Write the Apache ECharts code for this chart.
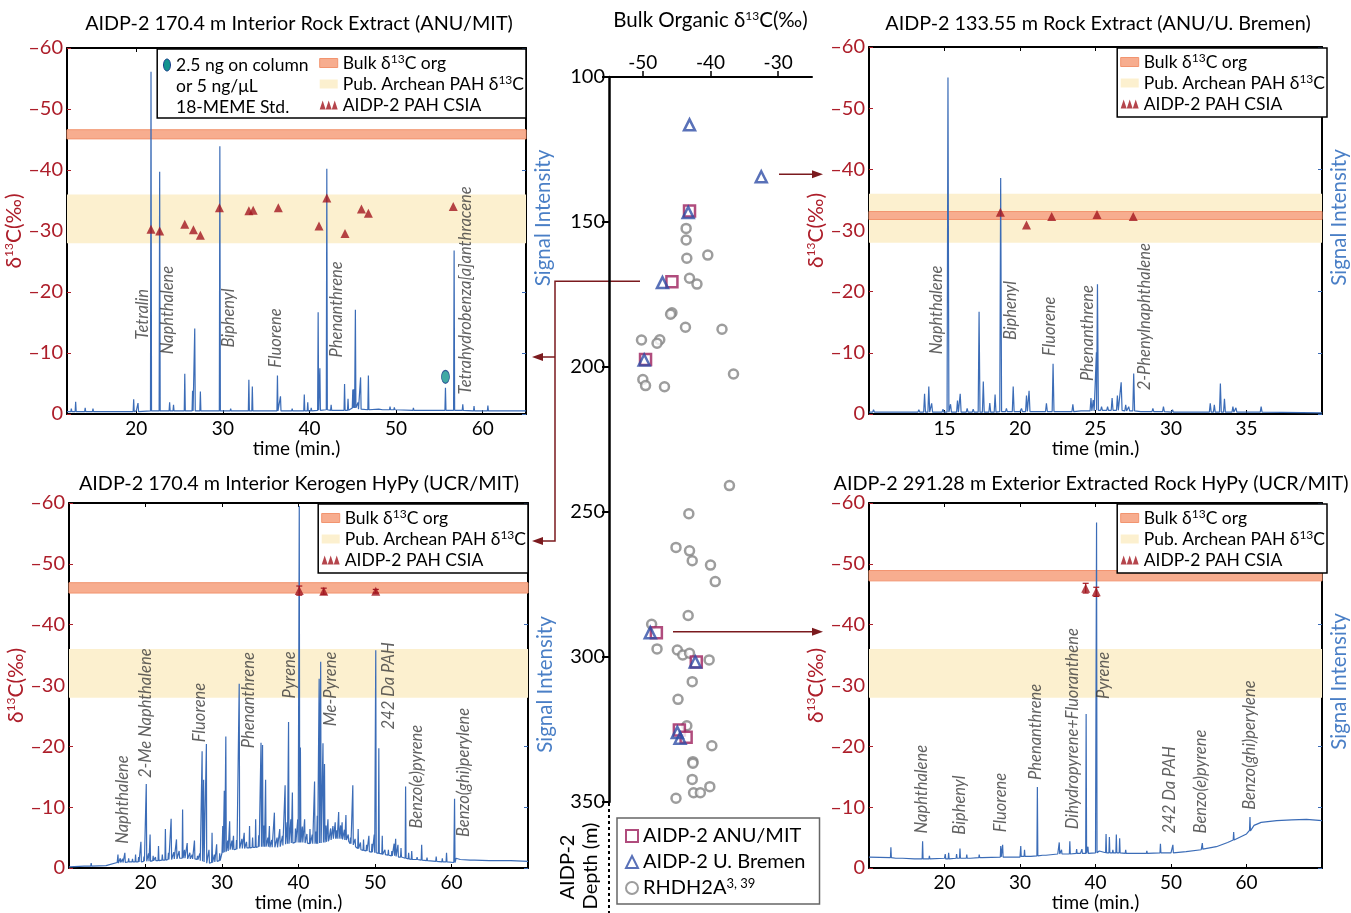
<!DOCTYPE html>
<html>
<head>
<meta charset="utf-8">
<script src="https://cdn.jsdelivr.net/npm/echarts@6/dist/echarts.min.js"></script>
<style>
html,body{margin:0;padding:0;background:#fff;}
#main{width:1351px;height:913px;}
</style>
</head>
<body>
<div id="main"></div>
<script>
// ---- panel A : 170.4 m interior rock extract (ANU/MIT) ----
var aBase = [[12,0.4],[20,0.5],[30,0.5],[40,0.6],[45,0.8],[48,0.8],[50,0.7],[55,0.6],[60,0.5],[65,0.5]];
// [time, top, foot]
var aPeaks = [[12.5,0.9,0.4],[13.0,2.0,0.4],[14.1,1.0,0.4],[15.0,0.9,0.4],[19.7,2.4,0.4],[20.2,1.8,0.4],[21.7,56.1,0.5],[22.7,39.7,0.5],[23.85,1.9,0.5],[24.3,1.5,0.5],[25.6,6.6,0.5],[26.5,3.8,0.5],[26.75,14.0,0.5],[27.4,3.7,0.5],[29.65,43.9,0.5],[30.9,0.9,0.5],[33.0,5.6,0.5],[33.4,4.5,0.5],[36.3,6.3,0.5],[36.65,2.9,0.5],[38.0,0.9,0.5],[39.4,3.2,0.5],[39.8,1.9,0.5],[40.2,1.0,0.5],[41.0,16.7,0.6],[41.2,7.5,0.6],[42.0,40.2,0.7],[42.5,1.5,0.6],[44.05,4.9,0.6],[44.45,2.5,0.6],[45.0,4.0,1.0],[45.15,4.1,1.0],[45.3,17.1,1.0],[45.6,1.9,0.8],[45.9,6.0,0.8],[46.8,6.3,0.7],[48.5,1.0,0.7],[49.3,1.2,0.7],[49.8,1.1,0.7],[52.0,1.0,0.6],[53.2,0.9,0.6],[55.7,4.3,0.6],[56.7,26.8,0.6],[57.7,1.6,0.6],[59.0,1.3,0.5],[60.6,1.4,0.5]];
var aCsia = [[21.7,-30.3],[22.7,-30.0],[25.6,-31.1],[26.6,-30.2],[27.4,-29.3],[29.6,-33.8],[33.0,-33.3],[33.5,-33.4],[36.4,-33.8],[41.1,-30.8],[42.0,-35.4],[44.1,-29.6],[46.0,-33.6],[46.8,-32.9],[56.6,-34.0]];
var aStd = [[55.7,-6.1]];
var aBulk = [-46.6,-45.1];
var aNames = ['Tetralin','Naphthalene','Biphenyl','Fluorene','Phenanthrene','Tetrahydrobenza[a]anthracene'];
var aNameT = [20.8,23.7,30.7,36.1,43.2,58.1];
var aNameY = [-12.1,-9.7,-10.8,-7.5,-9.2,-3.1];

// ---- panel B : 133.55 m rock extract (ANU/U. Bremen) ----
var bBase = [[10,0.3],[20,0.4],[25,0.6],[28,0.4],[35,0.3],[40,0.2]];
var bPeaks = [[10.3,0.7,0.3],[11.2,0.6,0.3],[12.5,0.5,0.3],[13.3,0.7,0.3],[13.68,3.3,0.3],[13.96,4.5,0.3],[14.15,1.75,0.3],[14.9,0.8,0.3],[15.23,55,0.3],[15.4,1.6,0.3],[15.86,2.2,0.3],[16.04,3.3,0.3],[16.5,0.9,0.3],[16.9,0.8,0.3],[17.29,16.7,0.3],[17.57,5.3,0.3],[18.0,1.8,0.3],[18.35,3.2,0.3],[18.72,38.6,0.4],[19.1,0.9,0.4],[19.55,4.5,0.4],[20.1,0.9,0.4],[20.43,3.0,0.4],[20.6,3.8,0.4],[21.75,1.75,0.4],[22.19,8.2,0.4],[23.5,1.6,0.4],[24.1,0.8,0.5],[24.7,2.6,0.5],[24.85,2.3,0.5],[25.06,10.1,0.6],[25.13,21.2,0.6],[25.4,1.2,0.6],[25.8,1.2,0.6],[26.1,2.6,0.6],[26.45,3.0,0.6],[26.7,5.2,0.6],[27.0,1.5,0.5],[27.2,1.2,0.5],[27.53,6.6,0.5],[28.8,0.9,0.4],[29.5,1.2,0.4],[30.1,0.7,0.3],[31.3,0.6,0.3],[32.6,1.75,0.3],[32.87,1.5,0.3],[33.27,5.0,0.3],[33.54,2.5,0.3],[34.1,1.2,0.3],[34.3,1.0,0.3],[35.97,1.2,0.3]];
var bCsia = [[18.7,-33.0],[20.43,-30.9],[22.1,-32.3],[25.1,-32.6],[27.5,-32.3]];
var bBulk = [-33.1,-31.8];
var bNames = ['Naphthalene','Biphenyl','Fluorene','Phenanthrene','2-Phenylnaphthalene'];
var bNameT = [14.54,19.4,22.0,24.5,28.3];
var bNameY = [-9.7,-12.0,-9.4,-5.3,-3.8];

// ---- panel C : 170.4 m interior kerogen HyPy (UCR/MIT) ----
var cBase = [[10,0.2],[12,0.3],[15,0.4],[16.3,0.9],[18,1.0],[20,1.1],[22,1.3],[24,1.6],[26,1.5],[28,0.8],[29.5,1.2],[30,2.5],[31,3.0],[33,3.3],[35,3.5],[37,3.4],[38.5,4.0],[40,4.2],[42,4.0],[44,4.8],[46,4.6],[47.5,3.2],[49,2.7],[51,2.2],[53,1.8],[55,1.4],[58,1.1],[60.3,0.9],[60.6,1.6],[63,1.3],[66,1.2],[70,1.1]];
var cPeaks = [[12.9,0.8,0.3],[14.9,0.7,0.4],[16.4,2.2,0.8],[16.7,1.6,0.9],[17.0,1.5,0.9],[17.3,2.5,0.9],[17.8,1.6,1.0],[18.3,1.5,1.0],[18.7,2.2,1.0],[19.1,1.8,1.0],[19.4,4.3,1.0],[19.8,1.9,1.1],[20.1,13.8,1.1],[20.4,2.4,1.1],[20.6,5.5,1.1],[21.0,2.0,1.2],[21.3,1.8,1.2],[21.7,3.6,1.2],[22.2,2.2,1.3],[22.6,6.4,1.3],[23.0,2.5,1.4],[23.35,8.1,1.4],[23.7,2.6,1.5],[24.05,4.7,1.5],[24.4,2.8,1.6],[24.85,9.6,1.6],[25.1,3.0,1.6],[25.45,4.1,1.5],[25.8,2.5,1.5],[26.1,2.2,1.5],[26.4,4.5,1.5],[26.8,2.0,1.4],[27.1,2.4,1.2],[27.4,19.2,1.1],[27.6,14.5,1.0],[27.96,20.4,0.9],[28.3,3.0,0.8],[28.7,5.8,0.9],[29.0,2.2,1.0],[29.3,3.9,1.1],[29.7,2.4,1.2],[30.1,6.9,2.5],[30.3,12.7,2.6],[30.5,21.6,2.7],[30.75,4.5,2.8],[31.0,7.7,3.0],[31.3,4.5,3.0],[31.5,5.3,3.0],[31.9,4.6,3.1],[32.25,30.3,3.2],[32.6,4.8,3.2],[32.9,5.8,3.2],[33.2,4.3,3.3],[33.6,6.9,3.3],[34.0,5.0,3.4],[34.4,8.0,3.4],[34.8,5.4,3.5],[35.1,20.6,3.5],[35.3,20.2,3.5],[35.5,7.0,3.5],[35.7,14.5,3.5],[36.0,5.0,3.5],[36.2,6.9,3.4],[36.5,4.6,3.4],[36.85,9.1,3.4],[37.2,5.0,3.4],[37.55,6.4,3.5],[37.9,5.3,3.7],[38.25,13.6,3.9],[38.5,7.5,4.0],[38.7,24.0,4.0],[39.0,8.0,4.1],[39.2,12.4,4.1],[39.6,6.5,4.2],[39.9,8.0,4.2],[40.1,59.5,4.2],[40.25,19.8,4.2],[40.5,6.8,4.2],[40.8,8.0,4.1],[41.1,5.6,4.1],[41.5,6.4,4.0],[41.8,5.5,4.0],[42.1,14.2,4.0],[42.3,6.0,4.0],[42.45,8.6,4.0],[42.7,31.1,4.1],[42.9,33.9,4.1],[43.2,20.5,4.2],[43.4,17.1,4.2],[43.6,7.0,4.3],[43.85,8.0,4.4],[44.2,6.5,4.6],[44.5,6.9,4.8],[44.8,7.5,4.8],[45.0,6.2,4.8],[45.25,9.2,4.8],[45.5,7.0,4.8],[45.7,7.5,4.7],[46.0,6.3,4.6],[46.2,8.7,4.6],[46.5,5.5,4.4],[46.8,5.0,4.0],[47.1,13.6,3.8],[47.4,4.8,3.5],[47.8,6.4,3.2],[48.1,4.2,3.0],[48.5,4.7,2.9],[48.9,3.8,2.8],[49.2,5.3,2.7],[49.6,4.0,2.6],[49.9,5.5,2.5],[50.1,35.8,2.5],[50.5,19.7,2.4],[50.95,5.3,2.3],[51.3,3.0,2.2],[51.75,3.0,2.1],[52.2,2.8,2.0],[52.5,4.0,2.0],[52.7,4.8,1.9],[53.0,3.8,1.8],[53.4,3.3,1.8],[54.0,13.4,1.6],[54.4,2.5,1.5],[54.8,2.8,1.4],[55.5,1.8,1.4],[56.1,3.8,1.3],[56.8,1.7,1.2],[58.0,1.9,1.1],[58.8,1.6,1.0],[59.35,2.5,1.0],[60.4,11.4,0.9],[61.2,1.6,1.4],[62.5,1.5,1.3],[65.0,1.4,1.2],[67.8,1.5,1.2]];
var cCsia = [[40.1,-45.6],[43.3,-45.5],[50.1,-45.5]];
var cErr = [0.75,0.5,0.3];
var cBulk = [-46.9,-45.2];
var cNames = ['Naphthalene','2-Me Naphthalene','Fluorene','Phenanthrene','Pyrene','Me-Pyrene','242 Da PAH','Benzo(e)pyrene','Benzo(ghi)perylene'];
var cNameT = [17.1,20.1,27.2,33.5,38.9,44.3,51.8,55.5,61.7];
var cNameY = [-3.9,-14.7,-20.6,-19.6,-27.8,-23.2,-22.7,-6.4,-5.0];

// ---- panel D : 291.28 m exterior extracted rock HyPy (UCR/MIT) ----
var dBase = [[10,1.8],[13,1.6],[16,1.5],[20,1.6],[25,1.7],[30,1.8],[33,2.1],[35,2.3],[38,2.4],[40,2.5],[45,2.4],[50,2.5],[52,2.7],[54,3.0],[56,3.5],[57.5,4.2],[58.5,4.8],[60,5.6],[60.4,6.2],[61,7.0],[62,7.5],[64,7.8],[66,7.9],[68,8.0],[70,7.8]];
var dPeaks = [[12.9,3.4,1.7],[13.6,1.8,1.6],[14.5,1.8,1.6],[17.1,4.4,1.5],[18.0,2.0,1.5],[20.1,2.3,1.5],[20.55,2.5,1.5],[21.6,2.3,1.6],[22.05,3.2,1.6],[22.95,2.2,1.6],[23.5,1.9,1.6],[24.6,2.2,1.7],[25.1,2.0,1.7],[27.45,3.6,1.8],[27.7,3.8,1.8],[28.5,2.0,1.8],[30.1,3.6,1.9],[30.6,3.0,1.9],[31.5,2.1,1.9],[32.3,13.3,2.0],[33.5,2.3,2.1],[35.2,4.2,2.3],[35.5,3.0,2.3],[36.6,4.4,2.3],[37.5,3.1,2.4],[38.2,3.1,2.4],[38.76,25.3,2.4],[39.0,3.5,2.4],[40.14,56.8,2.5],[40.5,2.8,2.5],[41.4,5.6,2.5],[41.84,5.1,2.5],[42.3,3.0,2.5],[42.76,5.5,2.5],[43.2,4.9,2.5],[44.0,3.0,2.4],[45.5,2.6,2.4],[46.8,2.8,2.4],[48.6,4.0,2.5],[50.25,3.8,2.5],[54.15,4.1,3.1],[58.3,5.9,4.6],[60.46,8.4,6.1],[62.0,7.8,7.5],[68.0,8.3,8.0]];
var dCsia = [[38.7,-46.0],[40.1,-45.4]];
var dErr = [0.8,0.75];
var dBulk = [-48.9,-47.2];
var dNames = ['Naphthalene','Biphenyl','Fluorene','Phenanthrene','Dihydropyrene+Fluoranthene','Pyrene','242 Da PAH','Benzo(e)pyrene','Benzo(ghi)perylene'];
var dNameT = [17.0,22.1,27.5,32.2,37.1,41.1,49.9,54.0,60.5];
var dNameY = [-5.6,-5.4,-5.8,-14.4,-6.3,-27.7,-5.6,-5.6,-9.5];

var archBand = [-36.0,-28.0];

// ---- centre: bulk organic d13C vs depth ----
var anuPts = [[-43.1,146.2],[-45.7,170.6],[-49.6,197.4],[-48.0,291.6],[-42.1,301.7],[-44.6,325.2],[-43.6,327.7]];
var bremenPts = [[-43.1,116.5],[-32.5,134.4],[-43.3,146.7],[-47.1,170.9],[-49.8,197.6],[-48.9,291.6],[-42.25,301.7],[-44.9,326.0],[-44.5,328.0]];
var rhdPts = [[-43.6,152.2],[-43.6,156.2],[-40.4,161.4],[-43.5,162.5],[-43.1,169.4],[-42.0,171.4],[-45.7,181.3],[-45.9,181.8],[-43.7,186.3],[-38.3,187.0],[-50.2,190.7],[-47.5,190.6],[-47.9,191.8],[-36.6,202.4],[-50.0,204.3],[-49.6,206.4],[-46.8,206.8],
  [-37.2,240.9],[-43.2,250.6],[-45.1,262.2],[-43.1,263.4],[-42.7,266.8],[-40.0,268.3],[-39.3,274.0],[-43.3,285.7],[-48.7,288.7],[-47.9,297.2],[-44.9,297.6],[-44.1,299.3],[-43.1,298.7],[-40.2,301.0],[-42.7,308.5],[-44.8,314.6],[-43.5,323.7],[-39.8,330.6],[-42.6,336.1],[-42.6,336.6],[-42.7,342.2],[-40.1,344.7],[-42.5,346.8],[-41.5,346.8],[-45.1,348.7]];

var FONT = 'Lato';
var RED = '#ad1e2a';
var BLUE = '#3b6cb7';
var BLUE_TXT = '#4a7fc6';
var BULK_FILL = '#f7ad8f', BULK_EDGE = '#f2946f';
var ARCH_FILL = '#fcf0cf';
var CSIA_C = '#a3161f';
var TRI3 = 'path://M0,10L3.3,0L6.6,10ZM6.7,10L10,0L13.3,10ZM13.4,10L16.7,0L20,10Z';

function trace(base, peaks) {
  var pts = base.slice();
  peaks.forEach(function (p) {
    pts.push([p[0] - 0.06, p[2]], [p[0], p[1]], [p[0] + 0.06, p[2]]);
  });
  pts.sort(function (a, b) { return a[0] - b[0]; });
  return pts;
}

var panels = [
  {grid: {left: 67, top: 48, width: 459, height: 366}, tmin: 12, tmax: 65, ticks: [20, 30, 40, 50, 60],
   base: aBase, peaks: aPeaks, csia: aCsia, err: null, bulk: aBulk, names: aNames, nt: aNameT, ny: aNameY,
   legRight: 825, legTop: 49, padLeft: 162, sigShift: 26},
  {grid: {left: 869, top: 47, width: 458, height: 367}, tmin: 10, tmax: 40, ticks: [15, 20, 25, 30, 35],
   base: bBase, peaks: bPeaks, csia: bCsia, err: null, bulk: bBulk, names: bNames, nt: bNameT, ny: bNameY,
   legRight: 24, legTop: 48, padLeft: 3, sigShift: 26},
  {grid: {left: 69, top: 503, width: 459, height: 367}, tmin: 10, tmax: 70, ticks: [20, 30, 40, 50, 60],
   base: cBase, peaks: cPeaks, csia: cCsia, err: cErr, bulk: cBulk, names: cNames, nt: cNameT, ny: cNameY,
   legRight: 823, legTop: 504, padLeft: 3, sigShift: 2},
  {grid: {left: 869, top: 503, width: 458, height: 367}, tmin: 10, tmax: 70, ticks: [20, 30, 40, 50, 60],
   base: dBase, peaks: dPeaks, csia: dCsia, err: dErr, bulk: dBulk, names: dNames, nt: dNameT, ny: dNameY,
   legRight: 24, legTop: 504, padLeft: 3, sigShift: 8}
];

var grids = [], xAxes = [], yAxes = [], series = [], legends = [];
var supRich = {sup: {fontSize: 12, verticalAlign: 'top', lineHeight: 12, fontFamily: FONT}};

function bandRender(params, api) {
  var cs = params.coordSys;
  var p1 = api.coord([cs.x, api.value(1)]);
  var p2 = api.coord([cs.x, api.value(0)]);
  var y0 = Math.min(p1[1], p2[1]);
  return {type: 'rect', shape: {x: cs.x, y: y0, width: cs.width, height: Math.abs(p2[1] - p1[1])},
          style: api.style()};
}

panels.forEach(function (p, i) {
  grids.push(p.grid);
  xAxes.push({
    gridIndex: i, type: 'value', min: p.tmin, max: p.tmax, position: 'bottom',
    axisLine: {onZero: false, lineStyle: {color: '#000', width: 2}},
    axisTick: {inside: true, length: 4, customValues: p.ticks, lineStyle: {color: '#000'}},
    axisLabel: {customValues: p.ticks, fontSize: 19, color: '#000', fontFamily: FONT, margin: 5},
    splitLine: {show: false},
    name: 'time (min.)', nameLocation: 'middle', nameGap: 25,
    nameTextStyle: {fontSize: 19, color: '#000', fontFamily: FONT}
  });
  xAxes.push({
    gridIndex: i, type: 'value', min: p.tmin, max: p.tmax, position: 'top',
    axisLine: {onZero: false, lineStyle: {color: '#000', width: 2}},
    axisTick: {inside: true, length: 4, customValues: p.ticks, lineStyle: {color: '#000'}},
    axisLabel: {show: false}, splitLine: {show: false}
  });
  yAxes.push({
    gridIndex: i, type: 'value', min: -60, max: 0, interval: 10, inverse: true, position: 'left',
    axisLine: {onZero: false, lineStyle: {color: '#000', width: 2}},
    axisTick: {inside: true, length: 4, lineStyle: {color: RED}},
    axisLabel: {fontSize: 20, color: RED, fontFamily: FONT, margin: 4,
      formatter: function (v) { return v === 0 ? '0' : '\u2013' + Math.abs(v); }},
    splitLine: {show: false},
    name: '\u03b4{sup|13}C(\u2030)', nameLocation: 'middle', nameRotate: 90, nameGap: 38,
    nameTextStyle: {fontSize: 21, color: RED, fontFamily: FONT, rich: supRich}
  });
  yAxes.push({
    gridIndex: i, type: 'value', min: 0, max: 60, interval: 10, position: 'right',
    axisLine: {onZero: false, lineStyle: {color: '#000', width: 2}},
    axisTick: {inside: true, length: 4, lineStyle: {color: BLUE}},
    axisLabel: {show: false}, splitLine: {show: false},
    name: 'Signal Intensity', nameLocation: 'middle', nameRotate: 90, nameGap: 7,
    nameTextStyle: {fontSize: 20.5, color: BLUE_TXT, fontFamily: FONT, padding: [0, 0, 0, p.sigShift]}
  });

  var xi = 2 * i, yl = 2 * i, yr = 2 * i + 1;
  series.push({
    type: 'custom', name: 'Pub. Archean PAH \u03b413C', xAxisIndex: xi, yAxisIndex: yl, z: 1, silent: true,
    renderItem: bandRender, data: [archBand], itemStyle: {color: ARCH_FILL}
  });
  series.push({
    type: 'custom', name: 'Bulk \u03b413C org', xAxisIndex: xi, yAxisIndex: yl, z: 1, silent: true,
    renderItem: bandRender, data: [p.bulk], itemStyle: {color: BULK_FILL, borderColor: BULK_EDGE, borderWidth: 1}
  });
  series.push({
    type: 'line', name: 'signal' + i, xAxisIndex: xi, yAxisIndex: yr, z: 2, silent: true,
    data: trace(p.base, p.peaks), showSymbol: false, symbol: 'none',
    lineStyle: {color: BLUE, width: 1.2}, itemStyle: {color: BLUE}
  });
  if (p.err) {
    series.push({
      type: 'custom', name: 'err' + i, xAxisIndex: xi, yAxisIndex: yl, z: 4, silent: true,
      data: p.csia.map(function (c, k) { return [c[0], c[1] - p.err[k], c[1] + p.err[k]]; }),
      renderItem: function (params, api) {
        var lo = api.coord([api.value(0), api.value(1)]);
        var hi = api.coord([api.value(0), api.value(2)]);
        var st = {stroke: CSIA_C, lineWidth: 1.2};
        return {type: 'group', children: [
          {type: 'line', shape: {x1: lo[0], y1: lo[1], x2: hi[0], y2: hi[1]}, style: st},
          {type: 'line', shape: {x1: lo[0] - 3, y1: lo[1], x2: lo[0] + 3, y2: lo[1]}, style: st},
          {type: 'line', shape: {x1: hi[0] - 3, y1: hi[1], x2: hi[0] + 3, y2: hi[1]}, style: st}
        ]};
      }
    });
  }
  series.push({
    type: 'scatter', name: 'AIDP-2 PAH CSIA', xAxisIndex: xi, yAxisIndex: yl, z: 5, silent: true,
    data: p.csia, symbol: 'triangle', symbolSize: 9, itemStyle: {color: CSIA_C}
  });
  series.push({
    type: 'scatter', name: 'names' + i, xAxisIndex: xi, yAxisIndex: yl, z: 3, silent: true,
    symbolSize: 1, itemStyle: {color: 'rgba(0,0,0,0)'},
    data: p.names.map(function (n, k) { return {name: n, value: [p.nt[k], p.ny[k]]}; }),
    label: {show: true, formatter: '{b}', rotate: 90, position: [0, 0], align: 'left', verticalAlign: 'middle',
      fontFamily: FONT, fontStyle: 'italic', fontSize: 16.5, color: '#3a3a3a'}
  });

  legends.push({
    orient: 'vertical', right: p.legRight, top: p.legTop, selectedMode: false,
    data: [
      {name: 'Bulk \u03b413C org', icon: 'rect', itemStyle: {color: BULK_FILL, borderColor: BULK_EDGE, borderWidth: 1}},
      {name: 'Pub. Archean PAH \u03b413C', icon: 'rect', itemStyle: {color: ARCH_FILL, borderWidth: 0}},
      {name: 'AIDP-2 PAH CSIA', icon: TRI3, itemStyle: {color: CSIA_C}}
    ],
    itemWidth: 18, itemHeight: 9, itemGap: 1, padding: [4, 2, 3, p.padLeft],
    backgroundColor: '#fff', borderColor: '#000', borderWidth: 1.5,
    formatter: function (n) { return n.replace('\u03b413C', '\u03b4{sup|13}C'); },
    textStyle: {fontFamily: FONT, fontSize: 17.5, color: '#000', lineHeight: 20, rich: supRich}
  });
});

// std marker in panel A
series.push({
  type: 'scatter', name: '18-MEME Std.', xAxisIndex: 0, yAxisIndex: 0, z: 5, silent: true,
  data: aStd, symbol: 'path://M0,-6A3.5,6 0 1,0 0,6A3.5,6 0 1,0 0,-6Z', symbolSize: [8, 13],
  itemStyle: {color: '#13948f', borderColor: '#1d3f8c', borderWidth: 1}
});

// centre panel
grids.push({left: 609, top: 77, width: 203, height: 725});
xAxes.push({
  gridIndex: 4, type: 'value', min: -55, max: -25, position: 'top',
  axisLine: {onZero: false, lineStyle: {color: '#000', width: 2}},
  axisTick: {customValues: [-50, -40, -30], length: 6, lineStyle: {color: '#000', width: 1.5}},
  axisLabel: {customValues: [-50, -40, -30], fontSize: 19, color: '#000', fontFamily: FONT, margin: 5},
  splitLine: {show: false},
  name: 'Bulk Organic \u03b4{sup|13}C(\u2030)', nameLocation: 'middle', nameGap: 46,
  nameTextStyle: {fontSize: 20.5, color: '#000', fontFamily: FONT, rich: supRich}
});
yAxes.push({
  gridIndex: 4, type: 'value', min: 100, max: 350, interval: 50, inverse: true,
  axisLine: {onZero: false, lineStyle: {color: '#000', width: 2.5}},
  axisTick: {length: 7, lineStyle: {color: '#000', width: 2}},
  axisLabel: {fontSize: 20, color: '#000', fontFamily: FONT, margin: 4},
  splitLine: {show: false}
});
series.push({
  type: 'scatter', name: 'RHDH2A', xAxisIndex: 8, yAxisIndex: 8, data: rhdPts, z: 3,
  symbol: 'circle', symbolSize: 9, itemStyle: {color: '#fff', borderColor: '#858585', borderWidth: 2.5}
});
series.push({
  type: 'scatter', name: 'AIDP-2 ANU/MIT', xAxisIndex: 8, yAxisIndex: 8, data: anuPts, z: 4,
  symbol: 'rect', symbolSize: 11, itemStyle: {color: '#fff', borderColor: '#9c1f5c', borderWidth: 2.5}
});
series.push({
  type: 'scatter', name: 'AIDP-2 U. Bremen', xAxisIndex: 8, yAxisIndex: 8, data: bremenPts, z: 5,
  symbol: 'triangle', symbolSize: 11, itemStyle: {color: 'rgba(255,255,255,0)', borderColor: '#2f4ea6', borderWidth: 2.5}
});
legends.push({
  orient: 'vertical', left: 617, top: 818, selectedMode: false,
  data: ['AIDP-2 ANU/MIT', 'AIDP-2 U. Bremen', 'RHDH2A'],
  itemWidth: 12, itemHeight: 12, itemGap: 4, padding: [7, 14, 5, 8],
  borderColor: '#666', borderWidth: 1.5,
  formatter: function (n) { return n === 'RHDH2A' ? 'RHDH2A{sup|3, 39}' : n; },
  textStyle: {fontFamily: FONT, fontSize: 20, color: '#000', lineHeight: 22,
    rich: {sup: {fontSize: 13, verticalAlign: 'top', lineHeight: 12, fontFamily: FONT}}}
});

function title(txt, x, y) {
  return {type: 'text', x: x, y: y, style: {text: txt, align: 'center', verticalAlign: 'middle',
    font: '19.8px ' + FONT, fill: '#000'}};
}
var stdTxt = {font: '17.5px ' + FONT, fill: '#000', verticalAlign: 'middle'};
var graphics = [
  title('AIDP-2 170.4 m Interior Rock Extract (ANU/MIT)', 299, 24),
  title('AIDP-2 133.55 m Rock Extract (ANU/U. Bremen)', 1098, 24),
  title('AIDP-2 170.4 m Interior Kerogen HyPy (UCR/MIT)', 299, 484),
  title('AIDP-2 291.28 m Exterior Extracted Rock HyPy (UCR/MIT)', 1091, 484),
  {type: 'ellipse', shape: {cx: 167, cy: 65, rx: 3.5, ry: 6}, z: 10,
   style: {fill: '#13948f', stroke: '#1d3f8c', lineWidth: 1}},
  {type: 'text', x: 176, y: 65, z: 10, style: Object.assign({text: '2.5 ng on column'}, stdTxt)},
  {type: 'text', x: 176, y: 86, z: 10, style: Object.assign({text: 'or 5 ng/\u03bcL'}, stdTxt)},
  {type: 'text', x: 176, y: 107, z: 10, style: Object.assign({text: '18-MEME Std.'}, stdTxt)},
  {type: 'text', x: 568, y: 867, rotation: Math.PI / 2,
   style: {text: 'AIDP-2', align: 'center', verticalAlign: 'middle', font: '20px ' + FONT, fill: '#000'}},
  {type: 'text', x: 591, y: 866, rotation: Math.PI / 2,
   style: {text: 'Depth (m)', align: 'center', verticalAlign: 'middle', font: '20px ' + FONT, fill: '#000'}},
  {type: 'line', shape: {x1: 609, y1: 803, x2: 609, y2: 913}, style: {stroke: '#000', lineWidth: 2, lineDash: [3, 3]}}
];

var chart = echarts.init(document.getElementById('main'));
chart.setOption({
  animation: false,
  textStyle: {fontFamily: FONT},
  grid: grids, xAxis: xAxes, yAxis: yAxes, series: series, legend: legends,
  graphic: graphics
});

// arrows from the sampled depths to their panels
var AR = '#7b1a1e';
function head(x, y, dir) {
  return {type: 'polygon', shape: {points: [[x, y], [x - dir * 11, y - 4], [x - dir * 11, y + 4]]}, style: {fill: AR}};
}
var y170 = chart.convertToPixel({gridIndex: 4}, [-45.7, 170.4])[1];
var y133 = chart.convertToPixel({gridIndex: 4}, [-32.5, 133.55])[1];
var y291 = chart.convertToPixel({gridIndex: 4}, [-48.0, 291.28])[1];
var lst = {stroke: AR, lineWidth: 1.5, fill: null};
graphics.push(
  {type: 'polyline', shape: {points: [[640, y170], [555, y170], [555, 541], [540, 541]]}, style: lst},
  {type: 'line', shape: {x1: 555, y1: 357, x2: 540, y2: 357}, style: lst},
  head(532, 357, -1), head(532, 541, -1),
  {type: 'line', shape: {x1: 779, y1: y133, x2: 815, y2: y133}, style: lst},
  head(823, y133, 1),
  {type: 'line', shape: {x1: 673, y1: y291, x2: 815, y2: y291}, style: lst},
  head(823, y291, 1)
);
chart.setOption({graphic: graphics});
</script>
</body>
</html>
